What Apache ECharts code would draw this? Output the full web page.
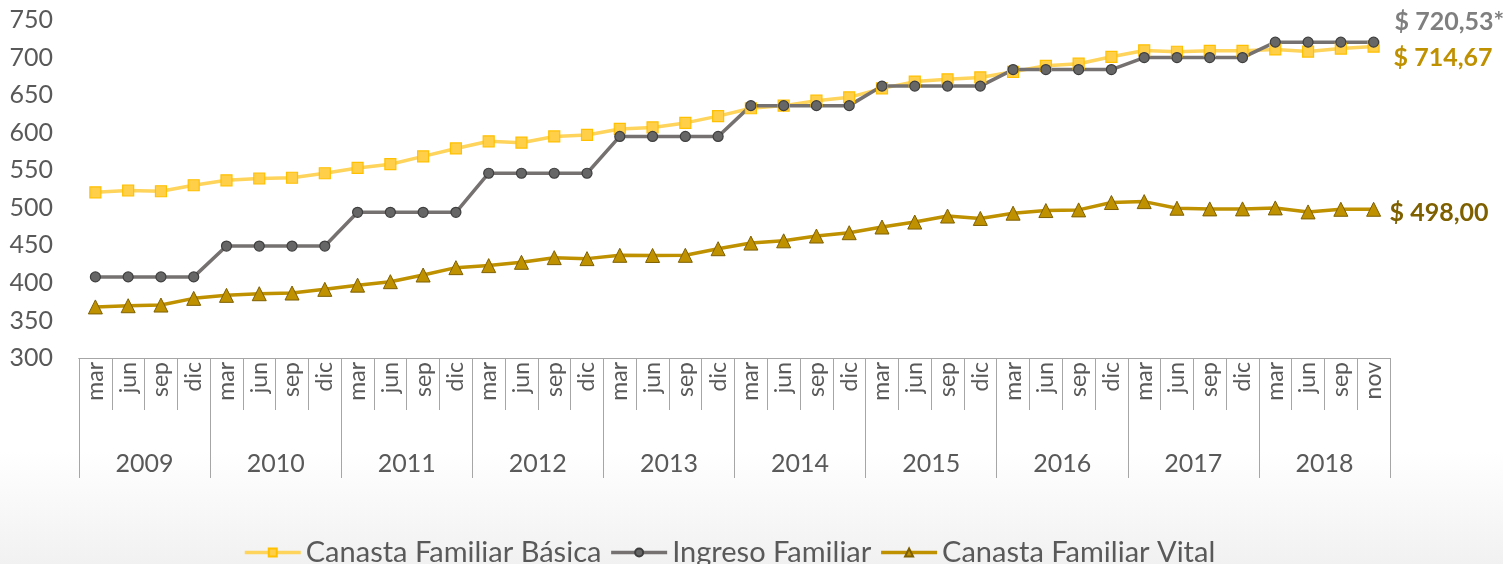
<!DOCTYPE html>
<html>
<head>
<meta charset="utf-8">
<script src="https://cdn.jsdelivr.net/npm/echarts@6/dist/echarts.min.js"></script>
<style>
  html, body { margin: 0; padding: 0; background: #fff; }
  #chart { width: 1503px; height: 564px; }
</style>
</head>
<body>
<div id="chart"></div>
<script>
// meses (trimestres) y años del eje x
const months = [
  'mar', 'jun', 'sep', 'dic', 'mar', 'jun', 'sep', 'dic',
  'mar', 'jun', 'sep', 'dic', 'mar', 'jun', 'sep', 'dic',
  'mar', 'jun', 'sep', 'dic', 'mar', 'jun', 'sep', 'dic',
  'mar', 'jun', 'sep', 'dic', 'mar', 'jun', 'sep', 'dic',
  'mar', 'jun', 'sep', 'dic', 'mar', 'jun', 'sep', 'nov'
]
const years = ['2009', '2010', '2011', '2012', '2013', '2014', '2015', '2016', '2017', '2018']

// valores
const basica = [
  520.6, 523, 522, 530, 536.6, 539, 540, 546,
  553, 558, 568.5, 579, 588.5, 586.7, 595, 597,
  605, 607, 613, 622, 632.5, 636, 642.6, 647,
  659, 668, 671, 673.5, 681, 689, 691.8, 701,
  709.5, 707.7, 709, 709, 710.8, 708, 712, 714.67
]
const ingreso = [
  408, 408, 408, 408, 449, 449, 449, 449,
  494, 494, 494, 494, 546, 546, 546, 546,
  595, 595, 595, 595, 636, 636, 636, 636,
  662, 662, 662, 662, 684, 684, 684, 684,
  700, 700, 700, 700, 720.53, 720.53, 720.53, 720.53
]
const vital = [
  368, 369.6, 370.5, 379.4, 383.4, 385.6, 386.5, 391.4,
  397, 401.6, 410.5, 420.3, 423, 427.4, 433.6, 432.3,
  436.7, 436.5, 436.7, 445.5, 453, 456, 462.4, 466.8,
  474.4, 481, 489, 485.8, 492.8, 496.3, 497.2, 507,
  508.2, 499.4, 498.5, 498.5, 499.8, 494.5, 498, 498
]
const yTicks = [300, 750, 50] // min, max, intervalo

const font = 'Lato'
const textColor = '#595959'
const axisColor = '#a6a6a6'

const chart = echarts.init(document.getElementById('chart'))

chart.setOption({
  backgroundColor: {
    type: 'linear', x: 0, y: 0, x2: 0, y2: 1,
    colorStops: [
      { offset: 0, color: '#ffffff' },
      { offset: 0.8, color: '#ffffff' },
      { offset: 1, color: '#f1f1f1' },
    ],
  },
  textStyle: { fontFamily: font },
  animation: false,
  grid: { left: 79, right: 113, top: 20, bottom: 206 },
  legend: {
    top: 533,
    left: 238,
    itemWidth: 56,
    itemHeight: 10,
    itemGap: 8,
    lineStyle: { width: 3.5 },
    textStyle: { fontFamily: font, fontSize: 29, color: textColor },
    data: ['Canasta Familiar Básica', 'Ingreso Familiar', 'Canasta Familiar Vital'],
  },
  xAxis: [
    {
      type: 'category',
      position: 'bottom',
      data: months,
      boundaryGap: true,
      axisLine: { show: true, lineStyle: { color: axisColor, width: 1 } },
      axisTick: { show: true, interval: 0, length: 52, lineStyle: { color: axisColor } },
      axisLabel: {
        interval: 0,
        rotate: 90,
        margin: 4,
        fontFamily: font,
        fontSize: 23,
        color: textColor,
      },
    },
    {
      type: 'category',
      position: 'bottom',
      data: years,
      boundaryGap: true,
      axisLine: { show: true, lineStyle: { color: axisColor, width: 1 } },
      axisTick: { show: true, interval: 0, length: 120, lineStyle: { color: axisColor } },
      axisLabel: {
        interval: 0,
        margin: 93,
        fontFamily: font,
        fontSize: 25,
        color: textColor,
      },
    },
  ],
  yAxis: {
    type: 'value',
    min: yTicks[0],
    max: yTicks[1],
    interval: yTicks[2],
    axisLine: { show: false },
    axisTick: { show: false },
    splitLine: { show: false },
    axisLabel: { margin: 26, fontFamily: font, fontSize: 25, color: textColor },
  },
  series: [
    {
      name: 'Canasta Familiar Básica',
      type: 'line',
      data: basica,
      symbol: 'rect',
      symbolSize: 11,
      lineStyle: { color: '#ffd45c', width: 3.5 },
      itemStyle: { color: '#ffcf4a', borderColor: '#ffc000', borderWidth: 1.2 },
      endLabel: {
        show: true,
        formatter: '$ 714,67',
        distance: 20,
        offset: [0, 11],
        fontFamily: font,
        fontSize: 25,
        fontWeight: 'bold',
        color: '#bf9000',
      },
    },
    {
      name: 'Ingreso Familiar',
      type: 'line',
      data: ingreso,
      symbol: 'circle',
      symbolSize: 10,
      lineStyle: { color: '#767171', width: 3.5 },
      itemStyle: { color: '#666666', borderColor: '#3f3f3f', borderWidth: 1.2 },
      endLabel: {
        show: true,
        formatter: '$ 720,53*',
        distance: 21,
        offset: [0, -20],
        fontFamily: font,
        fontSize: 25,
        fontWeight: 'bold',
        color: '#7f7f7f',
      },
    },
    {
      name: 'Canasta Familiar Vital',
      type: 'line',
      data: vital,
      symbol: 'triangle',
      symbolSize: 14,
      lineStyle: { color: '#bf9000', width: 3.5 },
      itemStyle: { color: '#bf9000', borderColor: '#7f6000', borderWidth: 1 },
      endLabel: {
        show: true,
        formatter: '$ 498,00',
        distance: 16,
        offset: [0, 4],
        fontFamily: font,
        fontSize: 25,
        fontWeight: 'bold',
        color: '#7f6000',
      },
    },
  ],
})

window.addEventListener('resize', () => {
  chart.resize()
})
</script>
</body>
</html>
